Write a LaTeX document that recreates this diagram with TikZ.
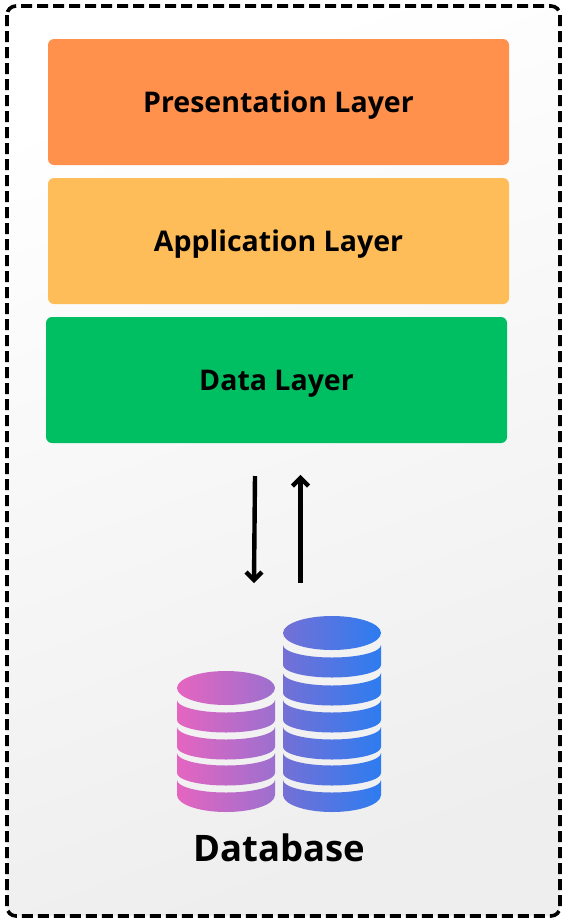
\documentclass[tikz,border=0pt]{standalone}
\usepackage{fontspec}
\setmainfont{Open Sans}
\usetikzlibrary{positioning}
\usepackage{xcolor}

\definecolor{layerorange}{HTML}{FF914D}
\definecolor{layeryellow}{HTML}{FFBD59}
\definecolor{layergreen}{HTML}{00BF63}
\definecolor{panelgray}{HTML}{EEEEEE}
\definecolor{pinkleft}{HTML}{E565C0}
\definecolor{pinkright}{HTML}{9C70CF}
\definecolor{blueleft}{HTML}{7470D6}
\definecolor{blueright}{HTML}{2D7CF0}

\tikzset{
    layerbox/.style={rounded corners=6pt, minimum width=461pt, minimum height=126pt,
        inner sep=0pt, text depth=0pt, font=\bfseries\fontsize{28.5}{34}\selectfont},
    flowarrow/.style={line width=4.4pt},
    pinkdisk/.style={left color=pinkleft, right color=pinkright},
    bluedisk/.style={left color=blueleft, right color=blueright}
}

\begin{document}
\begin{tikzpicture}[x=1pt, y=1pt, yscale=-1]

\useasboundingbox (0,0) rectangle (564,922);

% Outer panel
\shade[left color=white, right color=panelgray, shading angle=20, rounded corners=9pt]
    (7,6) rectangle (560,916);
\draw[line width=3.6pt, dash pattern=on 11pt off 5pt, rounded corners=9pt]
    (7,6) rectangle (560,916);

% Layers
\node[layerbox, fill=layerorange] (presentation) at (278.5,102) {Presentation Layer};
\node[layerbox, fill=layeryellow] (application) at (278.5,241) {Application Layer};
\node[layerbox, fill=layergreen] (datalayer) at (276.5,380) {Data Layer};

% Arrows
\coordinate (downstart) at (255,476);
\coordinate (downend) at (254,580);
\coordinate (upstart) at (300.5,583);
\coordinate (upend) at (300.5,478);
\draw[flowarrow] (downstart) -- (downend);
\draw[flowarrow] (downend) ++(-8,-8) -- ++(8,8) -- ++(8,-8);
\draw[flowarrow] (upstart) -- (upend);
\draw[flowarrow] (upend) ++(-8,8) -- ++(8,-8) -- ++(8,8);

% Pink stack
\shade[pinkdisk] (226,688) ellipse [x radius=49, y radius=17];
\foreach \t in {700,727,753}
    \shade[pinkdisk] (177,\t) arc[start angle=180, end angle=0, x radius=49, y radius=12.5]
        -- (275,\t+20) arc[start angle=0, end angle=180, x radius=49, y radius=12.5] -- cycle;
\shade[pinkdisk] (177,780) arc[start angle=180, end angle=0, x radius=49, y radius=12.5]
    -- (275,795) arc[start angle=0, end angle=180, x radius=49, y radius=17] -- cycle;

% Blue stack
\shade[bluedisk] (332,633) ellipse [x radius=49, y radius=17];
\foreach \t in {645,673,700,727,753}
    \shade[bluedisk] (283,\t) arc[start angle=180, end angle=0, x radius=49, y radius=12.5]
        -- (381,\t+20) arc[start angle=0, end angle=180, x radius=49, y radius=12.5] -- cycle;
\shade[bluedisk] (283,780) arc[start angle=180, end angle=0, x radius=49, y radius=12.5]
    -- (381,795) arc[start angle=0, end angle=180, x radius=49, y radius=17] -- cycle;

% Label
\node[font=\bfseries\fontsize{36.5}{42}\selectfont] (dblabel) at (279.5,848) {Database};

\end{tikzpicture}
\end{document}
